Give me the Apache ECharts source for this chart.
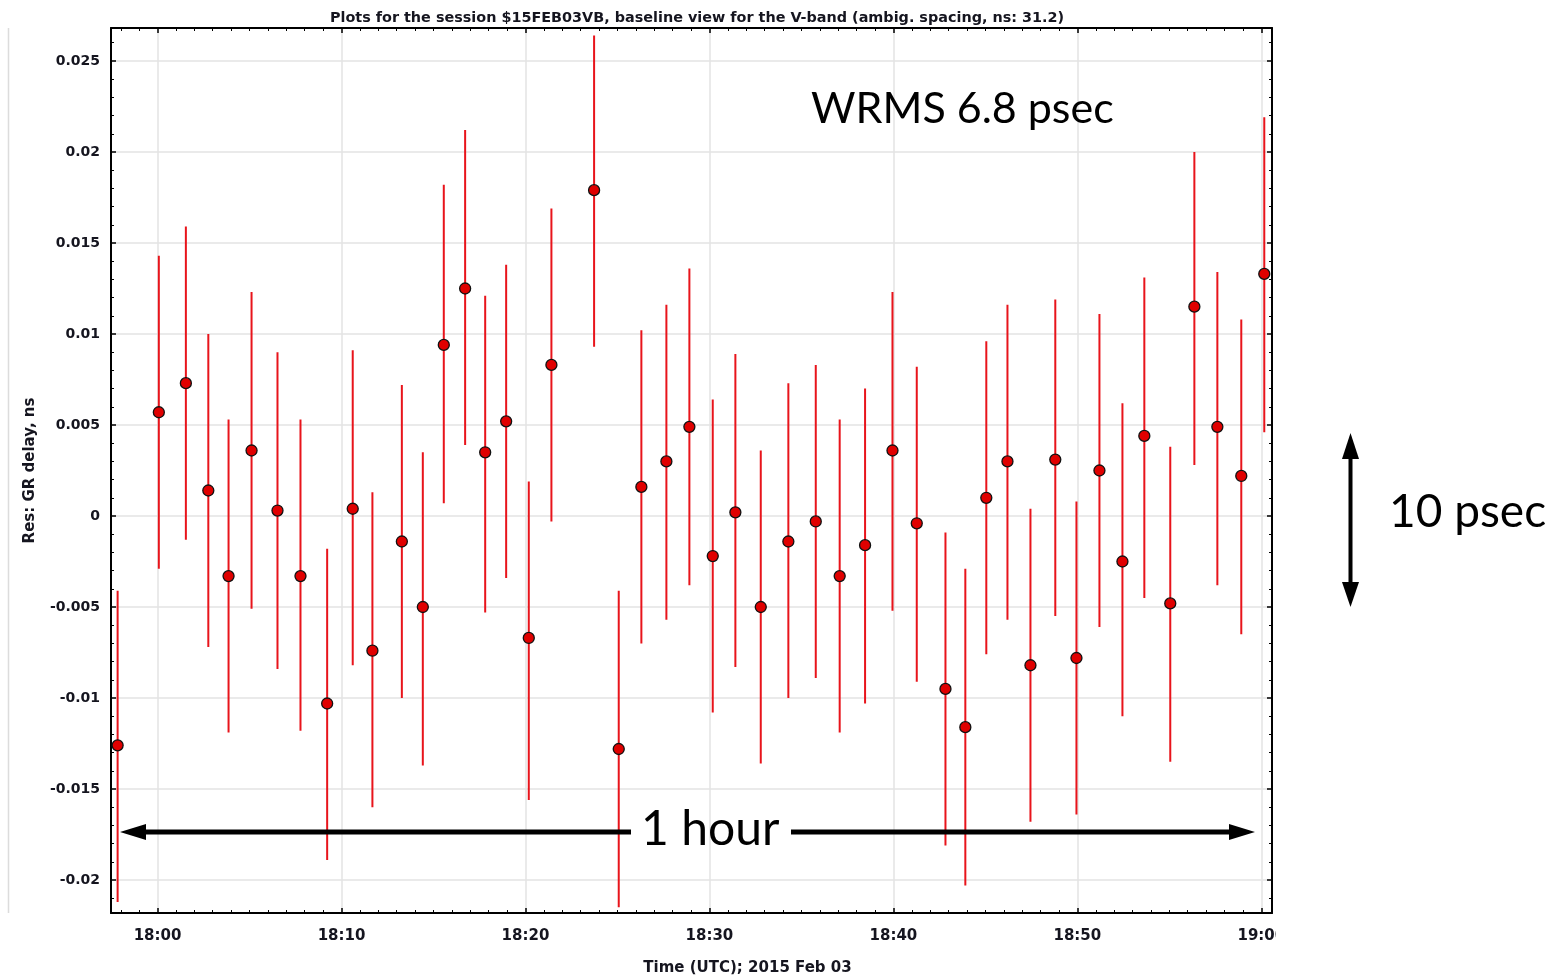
<!DOCTYPE html>
<html>
<head>
<meta charset="utf-8">
<title>V-band baseline residuals</title>
<script src="https://cdn.jsdelivr.net/npm/echarts@6/dist/echarts.min.js"></script>
<style>
  html, body { margin: 0; padding: 0; background: #fff; }
  #main { width: 1566px; height: 975px; }
</style>
</head>
<body>
<div id="main"></div>
<script>
// minutes after 18:00 UTC
var minutes = [-2.17, 0.07, 1.54, 2.76, 3.86, 5.11, 6.52, 7.77, 9.22, 10.61, 11.68, 13.28,
    14.42, 15.56, 16.72, 17.81, 18.95, 20.18, 21.41, 23.73, 25.07, 26.30, 27.66, 28.91,
    30.18, 31.41, 32.79, 34.29, 35.78, 37.08, 38.46, 39.95, 41.27, 42.83, 43.91, 45.05,
    46.20, 47.45, 48.80, 49.95, 51.20, 52.45, 53.64, 55.05, 56.36, 57.61, 58.91, 60.16];
// residual GR delay, ns
var delay = [-0.0126, 0.0057, 0.0073, 0.0014, -0.0033, 0.0036, 0.0003, -0.0033, -0.0103, 0.0004,
    -0.0074, -0.0014, -0.0050, 0.0094, 0.0125, 0.0035, 0.0052, -0.0067, 0.0083, 0.0179,
    -0.0128, 0.0016, 0.0030, 0.0049, -0.0022, 0.0002, -0.0050, -0.0014, -0.0003, -0.0033,
    -0.0016, 0.0036, -0.0004, -0.0095, -0.0116, 0.0010, 0.0030, -0.0082, 0.0031, -0.0078,
    0.0025, -0.0025, 0.0044, -0.0048, 0.0115, 0.0049, 0.0022, 0.0133];
var upper = [-0.0041, 0.0143, 0.0159, 0.0100, 0.0053, 0.0123, 0.0090, 0.0053, -0.0018, 0.0091,
    0.0013, 0.0072, 0.0035, 0.0182, 0.0212, 0.0121, 0.0138, 0.0019, 0.0169, 0.0264,
    -0.0041, 0.0102, 0.0116, 0.0136, 0.0064, 0.0089, 0.0036, 0.0073, 0.0083, 0.0053,
    0.0070, 0.0123, 0.0082, -0.0009, -0.0029, 0.0096, 0.0116, 0.0004, 0.0119, 0.0008,
    0.0111, 0.0062, 0.0131, 0.0038, 0.0200, 0.0134, 0.0108, 0.0219];
var lower = [-0.0212, -0.0029, -0.0013, -0.0072, -0.0119, -0.0051, -0.0084, -0.0118, -0.0189, -0.0082,
    -0.0160, -0.0100, -0.0137, 0.0007, 0.0039, -0.0053, -0.0034, -0.0156, -0.0003, 0.0093,
    -0.0215, -0.0070, -0.0057, -0.0038, -0.0108, -0.0083, -0.0136, -0.0100, -0.0089, -0.0119,
    -0.0103, -0.0052, -0.0091, -0.0181, -0.0203, -0.0076, -0.0057, -0.0168, -0.0055, -0.0164,
    -0.0061, -0.0110, -0.0045, -0.0135, 0.0028, -0.0038, -0.0065, 0.0046];

var xMin = -2.53, xMax = 60.58;
var yMin = -0.02181, yMax = 0.02681;

var points = [], bars = [];
for (var i = 0; i < minutes.length; i++) {
    points.push([minutes[i], delay[i]]);
    bars.push([minutes[i], lower[i], upper[i]]);
}

function clock(v) {
    var h = 18 + Math.floor(v / 60);
    var m = Math.round(v - (h - 18) * 60);
    return h + ':' + (m < 10 ? '0' + m : m);
}

var ink = '#15151f';
var frame = { show: true, onZero: false, lineStyle: { color: '#000', width: 2 } };
var tick = { show: true, inside: true, length: 5, lineStyle: { color: '#000', width: 1.5 } };
var minor = { show: true, splitNumber: 10, length: 3, lineStyle: { color: '#000', width: 1 } };
var grid = { show: true, lineStyle: { color: '#e3e3e3', width: 1.5 } };

var myChart = echarts.init(document.getElementById('main'));
var option = {
    animation: false,
    backgroundColor: '#fff',
    title: {
        text: 'Plots for the session $15FEB03VB, baseline view for the V-band (ambig. spacing, ns: 31.2)',
        left: 692,
        top: 6,
        textAlign: 'center',
        textStyle: { fontSize: 14.4, fontWeight: 'bold', color: ink, fontFamily: 'DejaVu Sans' }
    },
    grid: { left: 111, right: 294, top: 28, bottom: 62, outerBoundsMode: 'none', containLabel: false },
    xAxis: [{
        type: 'value', min: xMin, max: xMax, minInterval: 10, maxInterval: 10,
        name: 'Time (UTC); 2015 Feb 03', nameLocation: 'middle', nameGap: 48,
        nameTextStyle: { color: ink, fontSize: 15, fontWeight: 'bold', fontFamily: 'DejaVu Sans', padding: [0, 0, 0, 112] },
        axisLine: frame, axisTick: tick, minorTick: minor, splitLine: grid,
        axisLabel: { margin: 16, showMinLabel: false, showMaxLabel: false, color: ink,
            fontSize: 15, fontWeight: 'bold', fontFamily: 'DejaVu Sans',
            formatter: function (v) { return clock(v); } }
    }, {
        type: 'value', position: 'top', min: xMin, max: xMax, minInterval: 10, maxInterval: 10,
        axisLine: frame, axisTick: tick, minorTick: minor, splitLine: { show: false },
        axisLabel: { show: false }
    }],
    yAxis: [{
        type: 'value', min: yMin, max: yMax, minInterval: 0.005, maxInterval: 0.005,
        name: 'Res: GR delay, ns', nameLocation: 'middle', nameGap: 73,
        nameTextStyle: { color: ink, fontSize: 15, fontWeight: 'bold', fontFamily: 'DejaVu Sans' },
        axisLine: frame, axisTick: tick, minorTick: Object.assign({}, minor, { splitNumber: 5 }), splitLine: grid,
        axisLabel: { margin: 11, showMinLabel: false, showMaxLabel: false, color: ink,
            fontSize: 14, fontWeight: 'bold', fontFamily: 'DejaVu Sans',
            formatter: function (v) { return String(+v.toFixed(4)); } }
    }, {
        type: 'value', position: 'right', min: yMin, max: yMax, minInterval: 0.005, maxInterval: 0.005,
        axisLine: frame, axisTick: tick, minorTick: Object.assign({}, minor, { splitNumber: 5 }),
        splitLine: { show: false }, axisLabel: { show: false }
    }],
    series: [{
        type: 'custom',
        data: bars,
        renderItem: function (params, api) {
            var x = api.value(0);
            var lo = api.coord([x, api.value(1)]);
            var hi = api.coord([x, api.value(2)]);
            return {
                type: 'line',
                shape: { x1: lo[0], y1: lo[1], x2: hi[0], y2: hi[1] },
                style: { stroke: '#e8141b', lineWidth: 2 }
            };
        },
        z: 2
    }, {
        type: 'scatter',
        data: points,
        symbol: 'circle',
        symbolSize: 11,
        itemStyle: { color: '#e00000', borderColor: '#111', borderWidth: 1.3, opacity: 1 },
        z: 3
    }],
    graphic: [
        // left edge of the pasted screenshot
        { type: 'line', z: 100, shape: { x1: 8.5, y1: 28, x2: 8.5, y2: 913 }, style: { stroke: '#dcdcdc', lineWidth: 1.5 } },
        // screenshot cropped on the right
        { type: 'rect', z: 100, shape: { x: 1276, y: 918, width: 60, height: 34 }, style: { fill: '#fff' } },
        { type: 'text', z: 101, left: 811, top: 88,
          style: { text: 'WRMS 6.8 psec', fill: '#000', font: '43px Lato' } },
        // 1 hour arrow
        { type: 'line', z: 101, shape: { x1: 140, y1: 832, x2: 631, y2: 832 }, style: { stroke: '#000', lineWidth: 5 } },
        { type: 'polygon', z: 101, shape: { points: [[120, 832], [146, 824], [146, 840]] }, style: { fill: '#000' } },
        { type: 'line', z: 101, shape: { x1: 791, y1: 832, x2: 1234, y2: 832 }, style: { stroke: '#000', lineWidth: 5 } },
        { type: 'polygon', z: 101, shape: { points: [[1255, 832], [1229, 824], [1229, 840]] }, style: { fill: '#000' } },
        { type: 'text', z: 101, left: 641, top: 806,
          style: { text: '1 hour', fill: '#000', font: '48px Lato' } },
        // 10 psec arrow
        { type: 'line', z: 101, shape: { x1: 1350.5, y1: 455, x2: 1350.5, y2: 586 }, style: { stroke: '#000', lineWidth: 4 } },
        { type: 'polygon', z: 101, shape: { points: [[1350.5, 433], [1342, 459], [1359, 459]] }, style: { fill: '#000' } },
        { type: 'polygon', z: 101, shape: { points: [[1350.5, 607], [1342, 582], [1359, 582]] }, style: { fill: '#000' } },
        { type: 'text', z: 101, left: 1389, top: 489,
          style: { text: '10 psec', fill: '#000', font: '46px Lato' } }
    ]
};
myChart.setOption(option);
</script>
</body>
</html>
